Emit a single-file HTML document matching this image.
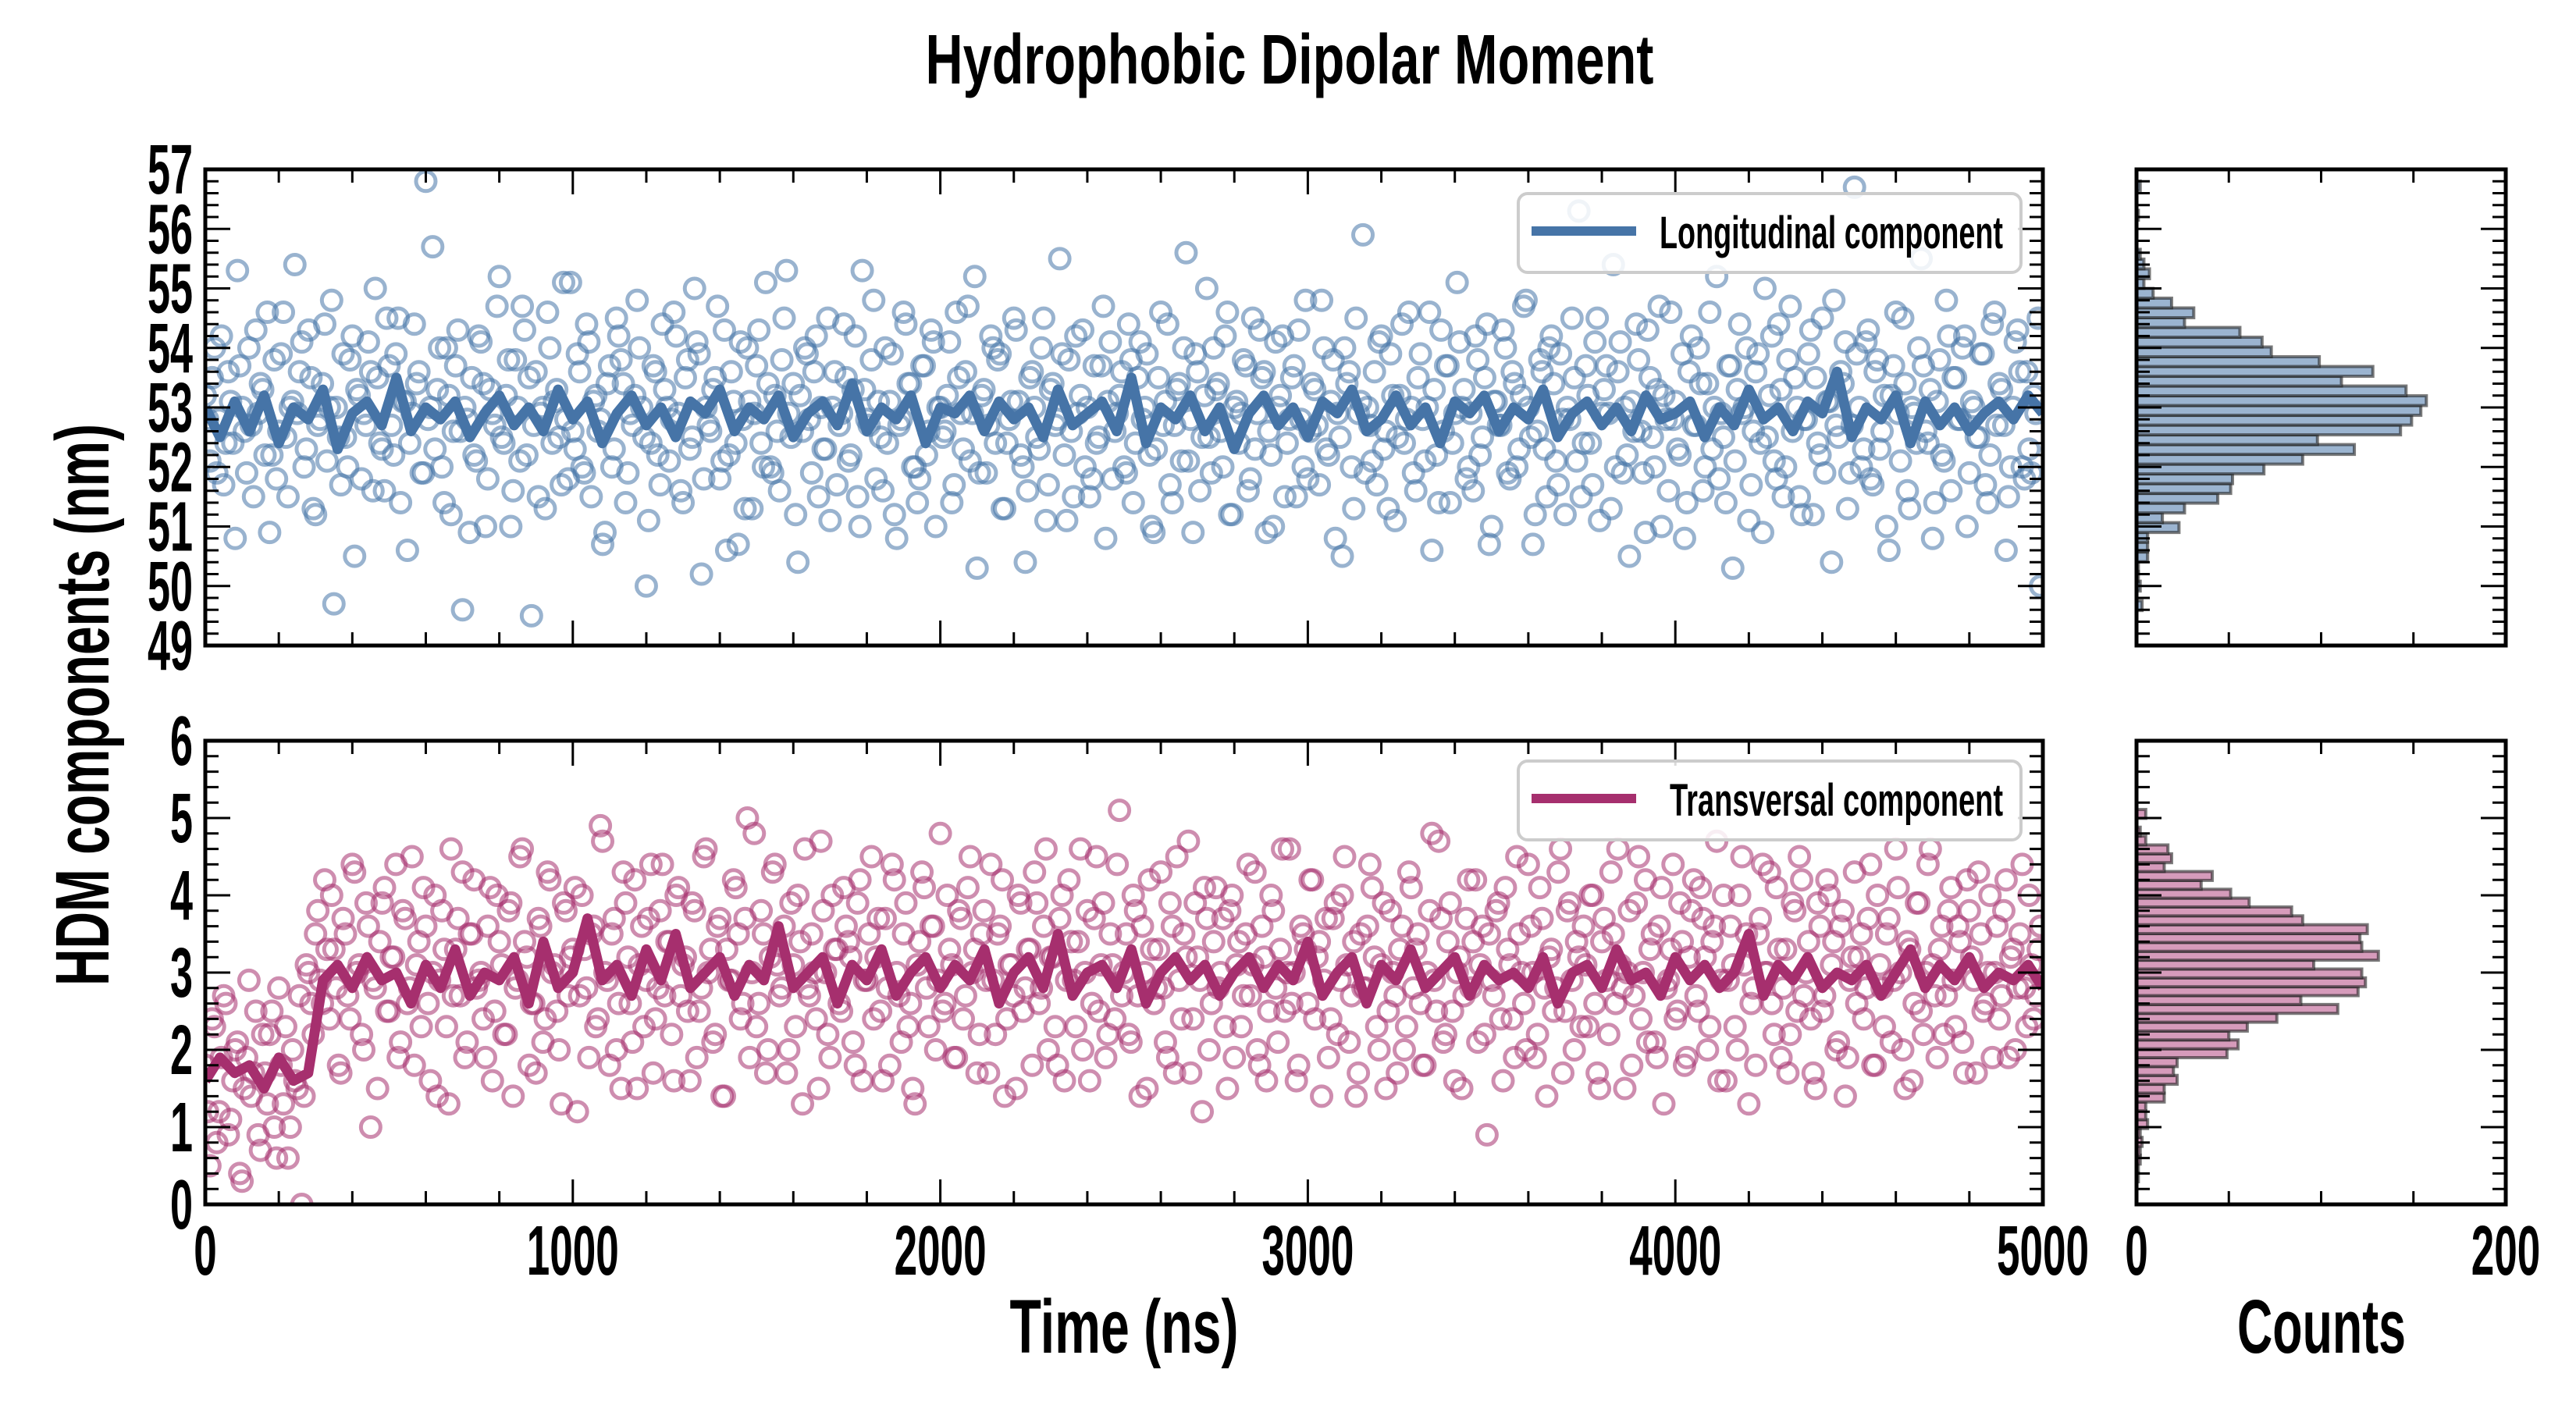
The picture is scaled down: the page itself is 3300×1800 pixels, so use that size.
<!DOCTYPE html>
<html><head><meta charset="utf-8"><style>
html,body{margin:0;padding:0;background:#fff;}
svg{display:block;}
text{font-family:"Liberation Sans",sans-serif;font-weight:bold;fill:#000;}
</style></head><body>
<svg id="fig" xmlns="http://www.w3.org/2000/svg" width="3300" height="1800" viewBox="0 0 3300 1800">
<rect width="3300" height="1800" fill="#fff"/>
<defs>
<clipPath id="clipTop"><rect x="263" y="217" width="2354" height="610"/></clipPath>
<clipPath id="clipBot"><rect x="263" y="949" width="2354" height="594"/></clipPath>
</defs>
<text x="1652" y="107" font-size="90" text-anchor="middle" textLength="933" lengthAdjust="spacingAndGlyphs">Hydrophobic Dipolar Moment</text>
<text x="1440" y="1733" font-size="97" text-anchor="middle" textLength="293" lengthAdjust="spacingAndGlyphs">Time (ns)</text>
<text x="2974" y="1733" font-size="97" text-anchor="middle" textLength="216" lengthAdjust="spacingAndGlyphs">Counts</text>
<text transform="translate(139,903) rotate(-90)" x="0" y="0" font-size="97" text-anchor="middle" textLength="720" lengthAdjust="spacingAndGlyphs">HDM components (nm)</text>
<g id="gTop"></g>
<g id="gBot"></g>
<g id="gHTop"></g>
<g id="gHBot"></g>
</svg>
<script>
// ---------- data ----------
const topScatterA = [
53.2,52.1,54.0,52.8,51.7,53.6,52.4,55.3,53.0,51.9,52.7,54.3,53.4,52.2,50.9,53.8,52.6,54.6,51.5,53.1,
52.9,54.1,52.3,53.5,51.2,52.8,54.4,53.0,49.7,52.5,53.9,52.0,54.2,53.3,51.8,52.7,53.6,55.0,52.4,51.6,
53.7,52.2,54.5,53.1,50.6,52.9,53.4,51.9,56.8,53.0,52.3,54.0,51.4,53.2,52.6,54.3,49.6,52.8,53.5,52.1,
54.1,51.0,53.3,52.7,55.2,52.4,53.8,51.6,53.0,54.7,52.2,49.5,53.6,52.9,51.3,54.0,53.1,52.5,55.1,51.8,
52.6,53.9,52.0,54.4,51.5,53.2,52.8,50.9,53.7,52.3,54.2,53.4,51.9,52.7,54.8,53.0,50.0,52.4,53.6,51.7,
53.3,52.1,54.6,52.9,51.4,53.8,52.5,54.1,50.2,53.0,52.6,53.5,51.8,54.3,52.2,53.1,50.7,52.8,54.0,51.3,
53.7,52.4,55.1,52.0,53.2,51.6,54.5,52.9,53.4,50.4,52.6,53.9,51.9,54.2,53.0,52.3,51.1,53.6,52.7,54.4,
52.1,53.3,51.5,55.3,52.8,53.8,51.8,52.5,54.0,53.1,51.2,52.7,54.6,53.4,52.0,51.4,53.7,52.2,54.3,51.0,
53.0,52.6,54.1,51.7,53.5,52.3,54.7,52.9,50.3,53.2,51.9,54.2,52.4,53.9,51.3,52.8,54.5,53.1,52.0,51.6,
53.6,52.5,54.0,51.1,53.3,52.7,55.5,52.2,53.8,51.5,52.9,54.3,53.0,51.8,52.4,53.7,50.8,54.1,52.6,53.2,
52.0,54.4,51.4,53.5,52.8,53.9,51.0,52.3,54.6,53.1,51.7,52.7,53.4,54.0,52.1,50.9,53.6,52.5,55.0,51.9,
53.3,52.6,54.2,51.2,53.0,52.4,53.8,51.6,54.5,52.9,53.5,50.9,52.2,54.1,53.2,51.5,52.8,53.7,54.3,52.0,
51.8,53.4,52.7,54.8,52.3,53.1,50.8,52.5,54.0,53.6,51.3,52.9,55.9,53.0,52.1,51.7,54.2,52.6,53.9,51.1,
53.2,52.4,54.6,51.9,53.5,52.8,53.0,50.6,52.2,54.3,53.7,51.4,52.9,54.1,53.3,52.0,51.6,53.8,52.5,54.4,
51.0,53.1,52.7,54.0,51.8,53.4,52.3,54.7,53.0,50.7,52.6,53.6,51.5,54.2,52.1,53.9,51.2,52.8,53.5,56.3,
52.4,53.2,51.7,54.5,52.9,53.7,51.3,52.0,54.1,53.0,50.5,52.6,53.8,51.9,54.3,52.5,53.3,51.0,52.8,54.6,
53.1,52.2,50.8,53.6,52.7,54.0,51.6,53.4,52.3,55.2,52.9,51.4,53.7,52.1,54.4,53.0,51.1,52.6,53.9,50.9,
52.5,54.2,51.8,53.3,52.0,54.7,53.5,51.5,52.8,53.9,51.2,52.4,54.5,53.1,50.4,52.7,53.6,54.1,51.9,56.7,
53.0,52.3,54.3,51.7,53.8,52.6,51.0,53.2,54.6,52.1,53.4,51.3,52.9,54.0,53.7,52.4,50.8,53.1,52.2,54.8,
51.6,53.5,52.8,54.2,51.9,53.0,52.5,53.9,51.4,54.4,52.7,53.3,50.6,52.0,54.1,53.6,51.8,52.3,53.2,54.5];
const topScatterB = [
52.8,53.5,51.9,54.2,52.4,53.1,50.8,53.7,52.6,54.0,51.5,52.9,53.3,54.6,52.2,51.8,53.9,52.5,53.0,55.4,
53.6,52.0,54.3,51.3,52.7,53.4,52.1,54.8,53.0,51.7,52.5,53.8,50.5,53.2,52.9,54.1,51.6,53.5,52.3,54.5,
52.7,53.9,51.4,53.1,52.4,54.4,53.6,51.9,52.8,55.7,53.3,52.0,54.0,51.2,53.7,52.6,53.0,50.9,52.2,54.2,
53.4,51.8,52.9,54.7,52.5,53.2,51.0,53.8,52.1,54.3,53.5,52.7,51.5,53.0,54.6,52.4,53.3,51.7,52.8,55.1,
52.3,53.6,51.9,54.1,53.1,52.6,50.7,53.4,52.0,54.5,53.8,51.4,52.9,53.2,54.0,52.5,51.1,53.7,52.2,54.4,
53.0,52.8,54.2,51.6,53.5,52.3,55.0,53.9,51.8,52.7,53.3,54.7,52.1,50.6,53.6,52.4,54.1,51.3,53.1,52.9,
54.3,52.0,53.4,51.9,52.6,53.8,55.3,52.5,51.2,53.2,54.0,52.8,53.6,51.5,52.3,54.5,53.0,51.7,52.9,53.5,
52.2,54.2,51.0,53.3,52.7,54.8,53.1,51.6,52.4,53.9,50.8,52.8,54.4,53.4,52.0,51.8,53.7,52.6,54.1,53.0,
52.5,53.2,51.4,54.6,52.9,53.6,52.1,55.2,51.9,53.3,52.7,54.0,53.8,51.3,52.4,53.1,54.3,52.2,50.4,53.5,
53.0,52.3,54.5,51.7,53.4,52.8,53.9,51.1,52.6,54.2,53.2,52.0,51.5,53.7,52.5,54.7,53.1,51.8,52.9,53.6,
51.9,53.8,52.4,54.1,53.0,52.2,50.9,53.5,52.7,54.4,51.4,53.3,52.1,55.6,52.8,53.9,51.6,53.2,52.5,54.0,
53.4,52.0,54.6,51.2,53.1,52.9,53.7,51.8,52.3,54.3,53.6,52.6,51.0,53.0,54.2,52.4,53.5,51.5,52.8,54.8,
52.6,53.3,51.7,54.0,52.2,53.8,52.9,50.5,53.4,52.0,54.5,53.1,51.9,52.7,53.6,54.1,52.3,51.3,53.2,52.5,
54.4,52.8,53.0,51.6,53.9,52.1,54.6,53.3,51.4,52.6,53.7,52.4,55.1,53.0,51.8,52.9,54.2,52.2,53.5,50.7,
53.1,52.7,54.3,51.9,53.6,52.0,53.2,54.8,52.5,51.2,53.8,52.3,54.0,53.4,51.7,52.8,53.0,54.5,52.1,51.5,
53.7,52.4,54.1,51.1,53.3,52.9,55.4,53.6,51.9,52.2,53.1,54.4,52.6,50.9,53.5,52.0,54.7,53.2,51.6,52.8,
52.3,53.9,51.4,54.2,52.7,53.4,52.0,54.6,53.0,51.8,52.5,53.7,50.3,53.3,52.9,54.0,51.7,53.6,52.4,55.0,
53.2,52.1,54.4,51.5,53.8,52.6,53.0,51.2,52.8,54.3,53.5,52.2,51.9,53.1,54.8,52.5,53.4,51.3,52.7,53.9,
52.0,54.1,51.8,53.6,52.3,53.2,50.6,53.7,52.9,54.5,51.6,53.0,52.4,55.5,52.6,53.3,51.4,53.8,52.1,54.2,
53.5,52.8,54.0,51.0,53.1,52.5,53.9,51.7,52.2,54.6,53.4,52.7,51.5,53.0,54.3,52.0,53.6,51.9,52.9,50.0];
const botScatterA = [
1.8,0.5,2.3,1.2,2.7,0.9,1.6,2.1,0.3,1.9,1.4,2.5,0.7,1.7,2.2,1.0,2.8,1.3,0.6,2.0,
1.5,0.0,3.1,2.6,3.5,2.9,4.2,2.4,3.3,1.8,3.7,2.7,4.4,3.0,2.2,3.9,1.0,2.8,3.4,4.1,
2.5,3.2,1.9,3.8,2.6,4.5,3.1,2.3,3.6,1.6,4.0,2.9,3.3,1.3,2.7,3.7,4.3,2.1,3.5,2.8,
3.0,1.9,4.1,2.5,3.4,2.2,3.8,1.4,2.9,4.6,3.2,2.6,1.7,3.6,2.4,4.2,3.1,2.0,3.9,2.7,
3.3,1.2,4.0,2.8,3.5,2.3,4.9,3.0,1.8,3.7,2.6,4.3,3.2,2.1,1.5,3.6,2.9,4.4,2.4,3.8,
2.7,3.4,1.6,4.1,3.1,2.5,3.9,1.9,2.8,4.6,3.3,2.2,3.7,1.4,2.9,4.2,3.5,2.6,5.0,3.0,
2.3,3.8,1.7,3.2,4.4,2.7,3.6,2.0,3.1,4.0,1.3,2.8,3.5,2.4,4.7,3.0,1.9,3.3,2.6,4.1,
3.4,2.1,3.9,1.6,2.9,4.5,3.2,2.5,3.7,1.8,4.2,2.7,3.5,2.3,1.5,3.1,4.3,2.8,3.6,2.0,
4.8,2.6,3.3,1.9,3.8,2.4,4.1,3.0,1.7,3.5,2.9,4.4,2.2,3.6,1.4,3.1,2.7,4.0,2.5,3.3,
1.8,3.9,2.8,4.6,3.2,2.3,3.7,1.6,4.2,2.9,3.4,2.0,3.8,2.6,4.5,3.1,1.9,3.5,2.4,5.1,
3.0,2.2,4.0,2.7,3.6,1.5,3.3,2.8,4.3,2.1,3.9,1.7,2.9,3.5,4.7,2.4,3.2,1.2,3.7,2.6,
4.1,3.0,2.3,3.8,1.9,3.4,2.7,4.4,3.1,2.0,3.6,1.6,4.0,2.8,3.3,2.5,4.6,3.0,1.8,3.5,
2.6,4.2,3.2,1.4,3.7,2.4,3.9,2.9,4.5,2.1,3.4,1.7,2.8,3.6,4.1,2.3,3.1,1.5,3.8,2.7,
3.3,2.0,4.3,2.8,3.5,1.8,3.0,4.8,2.5,3.7,2.2,3.9,1.6,3.2,2.7,4.2,3.4,2.1,3.6,0.9,
2.9,3.8,2.4,4.1,3.1,1.9,3.5,2.6,4.4,3.0,2.2,3.7,1.4,3.3,2.8,4.6,2.5,3.9,2.0,3.2,
3.6,2.3,4.0,1.7,3.4,2.9,4.3,2.6,3.1,1.5,3.8,2.7,4.5,3.0,2.1,3.5,1.9,4.1,2.8,3.3,
2.4,3.9,1.8,3.2,4.2,2.5,3.7,2.0,3.4,4.7,2.9,1.6,3.6,2.3,4.0,3.1,1.3,2.8,3.5,4.4,
3.0,2.6,4.1,1.9,3.3,2.2,3.8,4.5,2.7,3.4,1.7,3.9,2.5,4.2,3.1,2.0,3.6,1.4,2.9,4.3,
3.2,2.4,3.7,1.8,4.0,2.8,3.5,2.1,4.6,3.0,1.5,3.3,2.6,3.9,2.2,4.4,3.1,1.9,3.6,2.7,
4.1,2.3,3.4,1.7,3.8,2.9,4.3,2.5,3.0,1.9,3.6,2.7,4.2,3.2,2.0,3.5,2.8,4.0,2.4,3.3];
const botScatterB = [
1.2,2.4,0.8,1.9,2.6,1.1,2.0,0.4,1.5,2.9,1.7,0.9,2.2,1.3,2.5,0.6,1.8,2.3,1.0,1.6,
2.7,1.4,3.0,2.2,3.8,2.6,3.3,4.0,2.8,1.7,3.5,2.4,4.3,3.1,2.0,3.6,2.9,1.5,3.9,2.5,
3.2,4.4,2.1,3.7,2.8,1.8,3.4,4.1,2.6,3.0,1.4,3.8,2.3,4.6,3.3,2.7,1.9,3.5,4.2,2.9,
2.4,3.6,1.6,4.0,3.1,2.2,3.9,2.8,4.5,3.4,1.8,2.6,3.7,2.1,4.3,3.0,2.5,1.3,3.8,3.2,
4.1,2.7,3.3,1.9,3.6,2.4,4.7,2.9,3.5,2.0,1.5,3.9,2.6,4.2,3.1,2.3,3.7,1.7,2.8,4.4,
3.4,2.2,4.0,2.7,3.2,1.6,3.8,2.5,4.5,3.0,2.1,3.6,1.4,3.3,2.9,4.1,2.4,3.7,1.9,4.8,
2.6,3.5,2.0,4.3,3.1,2.8,1.7,3.9,2.3,3.4,4.6,2.7,3.0,1.5,3.8,2.2,4.0,3.3,2.5,3.6,
3.2,1.8,4.2,2.9,3.5,2.4,3.7,1.6,2.8,4.4,3.0,2.1,3.9,2.6,1.3,3.4,4.1,2.3,3.6,2.9,
2.5,4.0,3.1,1.9,3.7,2.7,4.5,3.3,2.2,3.8,1.7,2.9,3.5,4.2,2.4,3.1,1.5,3.9,2.8,3.3,
4.3,2.6,3.6,2.0,3.2,1.8,4.0,2.9,3.4,2.3,4.6,3.0,1.6,3.7,2.5,3.9,2.2,3.1,4.4,2.7,
3.5,2.1,3.8,1.4,3.0,4.2,2.6,3.3,2.8,1.9,3.6,4.5,2.4,3.2,1.7,3.9,2.9,4.1,2.0,3.4,
2.8,3.7,1.5,4.0,3.1,2.3,3.5,2.7,4.3,1.8,3.2,2.5,3.8,2.1,4.6,3.0,2.6,1.6,3.6,3.3,
4.2,2.4,3.4,2.9,1.9,3.7,2.2,4.0,3.1,2.7,1.4,3.5,2.8,4.4,3.2,2.0,3.9,2.5,3.0,1.7,
3.6,2.3,4.1,3.3,2.6,1.8,3.8,2.9,4.7,2.1,3.4,2.5,3.0,1.5,3.7,2.8,4.2,3.1,2.2,3.5,
2.7,3.9,1.6,3.3,2.4,4.5,3.0,2.0,3.6,1.9,4.1,2.8,3.2,2.5,4.3,1.7,3.8,2.9,3.4,2.3,
3.1,4.0,2.6,1.5,3.7,2.2,3.5,4.6,2.8,3.0,1.8,3.9,2.4,4.2,3.3,2.1,3.6,1.3,2.9,4.4,
2.5,3.4,1.9,3.8,2.7,4.1,3.2,2.3,3.6,1.6,4.0,2.9,3.1,2.0,4.5,3.5,2.6,1.8,3.7,3.0,
4.3,2.2,3.3,2.8,1.7,3.9,2.5,4.2,3.0,2.4,1.5,3.6,2.7,4.0,3.4,2.1,3.8,1.9,3.2,2.6,
3.5,2.8,4.4,1.8,3.1,2.3,3.7,2.9,4.1,2.0,3.4,1.6,3.9,2.5,3.0,4.6,2.7,3.3,2.2,3.8,
2.9,3.6,2.1,4.2,3.2,1.7,3.5,2.6,4.0,3.0,2.4,3.8,1.9,3.3,2.8,4.4,2.3,3.1,2.7,3.6];
const topLine = [53.0,52.5,53.1,52.6,53.2,52.4,53.0,52.8,53.3,52.3,52.9,53.1,52.7,53.5,52.6,53.0,52.8,53.1,52.5,52.9,53.2,52.7,53.0,52.6,53.3,52.8,53.1,52.4,52.9,53.2,52.7,53.0,52.5,53.1,52.9,53.3,52.6,53.0,52.8,53.2,52.5,52.9,53.1,52.7,53.4,52.6,53.0,52.8,53.2,52.4,53.0,52.9,53.2,52.6,53.1,52.8,53.0,52.5,53.3,52.7,52.9,53.1,52.6,53.5,52.4,53.0,52.8,53.2,52.6,53.0,52.3,52.9,53.2,52.7,53.0,52.5,53.1,52.9,53.3,52.6,52.8,53.2,52.7,53.0,52.4,53.1,52.9,53.2,52.6,53.0,52.8,53.3,52.5,52.9,53.1,52.7,53.0,52.6,53.2,52.8,52.9,53.1,52.5,53.0,52.7,53.3,52.8,53.0,52.6,53.1,52.9,53.6,52.5,53.0,52.8,53.2,52.4,53.1,52.7,53.0,52.6,52.9,53.1,52.8,53.2,52.9];
const botLine = [1.6,1.9,1.7,1.8,1.5,1.9,1.6,1.7,2.9,3.1,2.8,3.2,2.9,3.0,2.6,3.1,2.8,3.3,2.7,3.0,2.9,3.2,2.6,3.4,2.8,3.0,3.7,2.9,3.1,2.7,3.3,2.9,3.5,2.8,3.0,3.2,2.7,3.1,2.9,3.6,2.8,3.0,3.2,2.6,3.1,2.9,3.3,2.7,3.0,3.2,2.8,3.1,2.9,3.3,2.6,3.0,3.2,2.8,3.5,2.7,3.0,3.1,2.8,3.3,2.6,3.0,3.2,2.9,3.1,2.7,3.0,3.2,2.8,3.1,2.9,3.4,2.7,3.0,3.2,2.6,3.1,2.9,3.3,2.8,3.0,3.2,2.7,3.1,2.9,3.0,2.8,3.2,2.6,3.0,3.1,2.8,3.3,2.9,3.0,2.7,3.2,2.9,3.1,2.8,3.0,3.5,2.7,3.1,2.9,3.2,2.8,3.0,2.9,3.1,2.7,3.0,3.3,2.8,3.1,2.9,3.2,2.8,3.0,2.9,3.1,2.8];
const topHistStart = 49.588, topHistWidth = 0.164;
const topHistCounts = [3,0,2,1,1,6,6,6,23,14,26,44,51,52,69,90,118,98,143,149,154,157,146,111,128,99,73,68,56,26,31,19,9,4,7,4,2,0,0,0,1,0,0,2];
const botHistStart = 0.293, botHistWidth = 0.1147;
const botHistCounts = [1,1,2,2,3,2,6,5,5,15,15,22,20,22,49,55,50,60,76,109,89,120,124,122,96,131,122,121,125,90,84,61,51,35,41,15,19,17,5,2,0,5];
const timeTicks = [0,1000,2000,3000,4000,5000];
const topYTicks = [49,50,51,52,53,54,55,56,57];
const botYTicks = [0,1,2,3,4,5,6];
const countTicks = [0,200];

// ---------- layout ----------
const NS = "http://www.w3.org/2000/svg";
const MX0 = 263, MX1 = 2617, HX0 = 2737, HX1 = 3210;
const TOP = {y0: 217, y1: 827, vmin: 49, vmax: 57};
const BOT = {y0: 949, y1: 1543, vmin: 0, vmax: 6};
const xT = t => MX0 + (t / 5000) * (MX1 - MX0);
const xC = c => HX0 + (c / 200) * (HX1 - HX0);
const yOf = (P, v) => P.y1 - (v - P.vmin) / (P.vmax - P.vmin) * (P.y1 - P.y0);

function mk(tag, attrs, parent) {
  const e = document.createElementNS(NS, tag);
  for (const k in attrs) e.setAttribute(k, attrs[k]);
  parent.appendChild(e);
  return e;
}

function drawFrame(g, x0, x1, P, xMaj, xMin, yMinStep) {
  const tk = mk('g', {stroke: '#000', 'stroke-width': 3}, g);
  
  
  for (let v = P.vmin; v <= P.vmax + 1e-6; v += yMinStep) {
    const y = yOf(P, v);
    const isMaj = Math.abs(v - Math.round(v)) < 1e-6;
    const L = isMaj ? 32 : 17;
    mk('line', {x1: x0, y1: y, x2: x0 + L, y2: y}, tk);
    mk('line', {x1: x1, y1: y, x2: x1 - L, y2: y}, tk);
  }
  xMin.forEach(x => {
    mk('line', {x1: x, y1: P.y0, x2: x, y2: P.y0 + 17}, tk);
    mk('line', {x1: x, y1: P.y1, x2: x, y2: P.y1 - 17}, tk);
  });
  xMaj.forEach(x => {
    mk('line', {x1: x, y1: P.y0, x2: x, y2: P.y0 + 32}, tk);
    mk('line', {x1: x, y1: P.y1, x2: x, y2: P.y1 - 32}, tk);
  });
  const fr = mk('rect', {x: x0, y: P.y0, width: x1 - x0, height: P.y1 - P.y0, fill: 'none', stroke: '#000', 'stroke-width': 5}, g);
  
  
}

function yLabels(g, P, ticks) {
  ticks.forEach(v => {
    const s = String(v);
    const t = mk('text', {x: 247, y: yOf(P, v) + 31, 'font-size': 90, 'text-anchor': 'end', textLength: s.length * 29, lengthAdjust: 'spacingAndGlyphs'}, g);
    
    
    t.textContent = s;
  });
}

function drawScatter(parent, P, vals, offset) {
  const step = 5000 / vals.length;
  vals.forEach((v, i) => {
    const c = mk('circle', {cx: xT(offset * step + i * step), cy: yOf(P, v), r: 12.5}, parent);
    
    
  });
}

function drawMain(g, P, scA, scB, line, color, clip, legendText, legY, legTL) {
  const xs = [], xsMin = [];
  for (let t = 0; t <= 5000; t += 200) (t % 1000 === 0 ? xs : xsMin).push(xT(t));
  const sg = mk('g', {'clip-path': 'url(#' + clip + ')'}, g);
  const dots = mk('g', {fill: 'none', stroke: color, 'stroke-width': 5, 'stroke-opacity': 0.55}, sg);
  
  
  drawScatter(dots, P, scA, 0);
  drawScatter(dots, P, scB, 0.5);
  const ls = 5000 / (line.length - 1);
  const d = line.map((v, i) => (i ? 'L' : 'M') + xT(i * ls).toFixed(1) + ',' + yOf(P, v).toFixed(1)).join('');
  const pl = mk('path', {d: d, fill: 'none', stroke: color, 'stroke-width': 13, 'stroke-linejoin': 'round'}, sg);
  
  
  drawFrame(g, MX0, MX1, P, xs, xsMin, 0.2);
  const lg = mk('g', {}, g);
  
  
  mk('rect', {x: 1945, y: legY, width: 644, height: 101, rx: 12, fill: '#fff', 'fill-opacity': 0.85, stroke: '#cccccc', 'stroke-width': 4}, lg);
  const sw = mk('line', {x1: 1962, y1: legY + 48, x2: 2096, y2: legY + 48, stroke: color, 'stroke-width': 12}, lg);
  
  
  const lt = mk('text', {x: 2566, y: legY + 70, 'font-size': 58, 'text-anchor': 'end', textLength: legTL, lengthAdjust: 'spacingAndGlyphs'}, lg);
  
  
  lt.textContent = legendText;
}

function drawHist(g, P, start, width, counts, fill) {
  const bars = mk('g', {fill: fill, stroke: '#222', 'stroke-opacity': 0.6, 'stroke-width': 4}, g);
  
  
  counts.forEach((c, i) => {
    if (c <= 0) return;
    const lo = start + i * width, hi = lo + width;
    const yTop = yOf(P, hi), yBot = yOf(P, lo);
    const r = mk('rect', {x: xC(0), y: yTop, width: xC(c) - xC(0), height: yBot - yTop}, bars);
    
    
  });
  const hx = [];
  for (let c = 50; c <= 150; c += 50) hx.push(xC(c));
  drawFrame(g, HX0, HX1, P, [], hx, 0.2);
}

const gTop = document.getElementById('gTop');
const gBot = document.getElementById('gBot');
drawMain(gTop, TOP, topScatterA, topScatterB, topLine, '#4674a7', 'clipTop', 'Longitudinal component', 248, 440);
drawMain(gBot, BOT, botScatterA, botScatterB, botLine, '#a62f6e', 'clipBot', 'Transversal component', 975, 427);
yLabels(gTop, TOP, topYTicks);
yLabels(gBot, BOT, botYTicks);
timeTicks.forEach(t => {
  const s = String(t);
  const el = mk('text', {x: xT(t), y: 1633, 'font-size': 90, 'text-anchor': 'middle', textLength: s.length * 29.5, lengthAdjust: 'spacingAndGlyphs'}, gBot);
  
  
  el.textContent = s;
});
drawHist(document.getElementById('gHTop'), TOP, topHistStart, topHistWidth, topHistCounts, '#9bb4d0');
drawHist(document.getElementById('gHBot'), BOT, botHistStart, botHistWidth, botHistCounts, '#d69bbb');
countTicks.forEach(c => {
  const s = String(c);
  const el = mk('text', {x: xC(c), y: 1633, 'font-size': 90, 'text-anchor': 'middle', textLength: s.length * 29.5, lengthAdjust: 'spacingAndGlyphs'}, document.getElementById('gHBot'));
  
  
  el.textContent = s;
});
</script>
</body></html>
